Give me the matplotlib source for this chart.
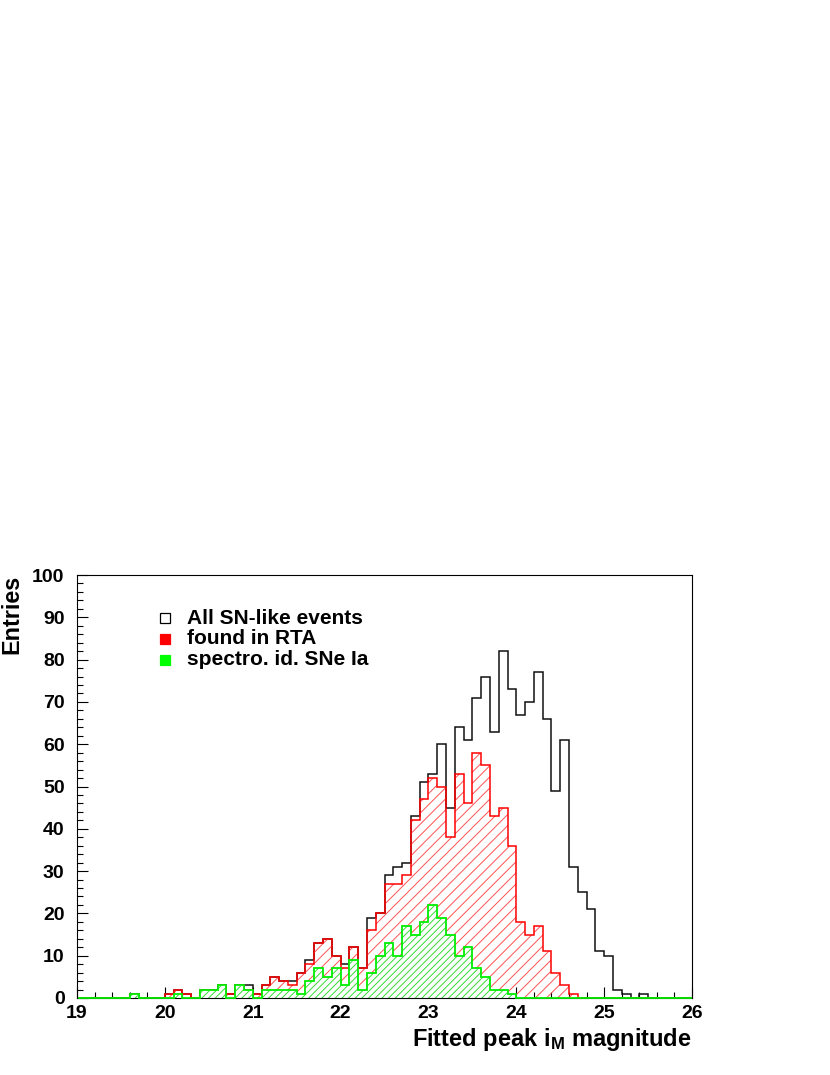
import numpy as np
import matplotlib
matplotlib.use("Agg")
import matplotlib.pyplot as plt
from matplotlib.patches import Rectangle

# ---------------- data (0.1-mag bins from 19.0 to 26.0) ----------------
bin_edges = np.round(np.arange(19.0, 26.0001, 0.1), 2)

all_sn = [0, 0, 0, 0, 0, 0, 1, 0, 0, 0,
          1, 2, 1, 0, 2, 2, 3, 1, 3, 3,
          1, 3, 5, 4, 4, 6, 9, 13, 14, 10,
          8, 12, 7, 19, 20, 29, 31, 32, 43, 51,
          53, 60, 45, 64, 61, 71, 76, 63, 82, 73,
          67, 70, 77, 66, 49, 61, 31, 25, 21, 11,
          10, 2, 1, 0, 1, 0, 0, 0, 0, 0]

found_rta = [0, 0, 0, 0, 0, 0, 1, 0, 0, 0,
             1, 2, 1, 0, 2, 2, 3, 1, 3, 2,
             1, 3, 5, 4, 3, 6, 8, 13, 14, 10,
             7, 12, 7, 16, 20, 27, 27, 29, 42, 47,
             52, 50, 38, 53, 46, 58, 55, 43, 45, 36,
             18, 15, 17, 11, 6, 3, 1, 0, 0, 0,
             0, 0, 0, 0, 0, 0, 0, 0, 0, 0]

spectro_ia = [0, 0, 0, 0, 0, 0, 1, 0, 0, 0,
              0, 1, 0, 0, 2, 2, 3, 0, 3, 2,
              0, 2, 2, 2, 2, 1, 4, 7, 5, 7,
              3, 9, 2, 6, 10, 13, 10, 17, 15, 18,
              22, 19, 15, 10, 12, 7, 5, 2, 2, 1,
              0, 0, 0, 0, 0, 0, 0, 0, 0, 0,
              0, 0, 0, 0, 0, 0, 0, 0, 0, 0]

legend_labels = ["All SN-like events", "found in RTA", "spectro. id. SNe Ia"]
x_label = r"Fitted peak i$_{\mathrm{M}}$ magnitude"
y_label = "Entries"

# ---------------- style ----------------
plt.rcParams["font.family"] = ["Liberation Sans", "DejaVu Sans"]
plt.rcParams["font.weight"] = "bold"
plt.rcParams["mathtext.fontset"] = "custom"
plt.rcParams["mathtext.rm"] = "Liberation Sans:bold"
plt.rcParams["mathtext.it"] = "Liberation Sans:bold"
plt.rcParams["mathtext.bf"] = "Liberation Sans:bold"
plt.rcParams["hatch.linewidth"] = 0.7

RED = "#ff0000"
GREEN = "#00ff00"

W, H = 830, 1075
fig = plt.figure(figsize=(W / 100, H / 100), dpi=100)
L, R, T, B = 77, 692, 575, 998
ax = fig.add_axes([L / W, 1 - B / H, (R - L) / W, (B - T) / H])

edges = bin_edges
# black outline: all events
ax.stairs(all_sn, edges, color="#111111", linewidth=1.1, baseline=0, zorder=2)
# red hatched
ax.stairs(found_rta, edges, fill=True, facecolor="none", edgecolor="#ff5050",
          hatch="///", linewidth=0, zorder=3)
ax.stairs(found_rta, edges, color=RED, linewidth=1.1, baseline=0, zorder=4)
# green hatched (covers red hatch)
ax.stairs(spectro_ia, edges, fill=True, facecolor="white", edgecolor="#33dd33",
          hatch="/////", linewidth=0, zorder=5)
ax.stairs(spectro_ia, edges, color="#00ee00", linewidth=1.3, baseline=0,
          zorder=6, clip_on=False)

ax.set_xlim(19, 26)
ax.set_ylim(0, 100)
ax.set_xticks(np.arange(19, 26.01, 1))
ax.set_xticks(np.arange(19, 26.01, 0.2), minor=True)
ax.set_yticks(np.arange(0, 100.1, 10))
ax.set_yticks(np.arange(0, 100.1, 2), minor=True)
ax.set_xticklabels([f"{int(v)}" for v in np.arange(19, 26.01, 1)])
ax.set_yticklabels([f"{int(v)}" for v in np.arange(0, 100.1, 10)])
ax.tick_params(axis="both", which="major", direction="in", length=8, width=0.8,
               labelsize=14)
ax.tick_params(axis="both", which="minor", direction="in", length=4, width=0.8)
ax.tick_params(axis="x", which="major", pad=5)
ax.tick_params(axis="y", which="major", pad=9)
for lab in ax.get_xticklabels() + ax.get_yticklabels():
    lab.set_fontweight("bold")
for name, sp in ax.spines.items():
    sp.set_linewidth(0.8)
    sp.set_zorder(5.5 if name == "bottom" else 7)

# axis titles (ROOT style: right/top aligned)
fig.text(R / W, 1 - 1046 / H, x_label, ha="right", va="baseline",
         fontsize=17, fontweight="bold")
fig.text(12 / W, 1 - T / H, y_label, ha="center", va="top", rotation=90,
         fontsize=16.8, fontweight="bold")

# legend (manual, borderless)
rows_y = [618, 638.5, 659.5]
box_fc = ["white", RED, GREEN]
box_ec = ["black", RED, GREEN]
for yy, lab, fc, ec in zip(rows_y, legend_labels, box_fc, box_ec):
    bx = (159.5 - L) / (R - L)
    by = (B - (yy + 5)) / (B - T)
    ax.add_patch(Rectangle((bx, by), 10 / (R - L), 10 / (B - T),
                           transform=ax.transAxes, facecolor=fc, edgecolor=ec,
                           linewidth=0.9, zorder=8, clip_on=False))
    ax.text((187 - L) / (R - L), (B - yy) / (B - T), lab, transform=ax.transAxes,
            ha="left", va="center", fontsize=15, fontweight="bold", zorder=8)

fig.savefig("out.png", dpi=100, facecolor="white")
